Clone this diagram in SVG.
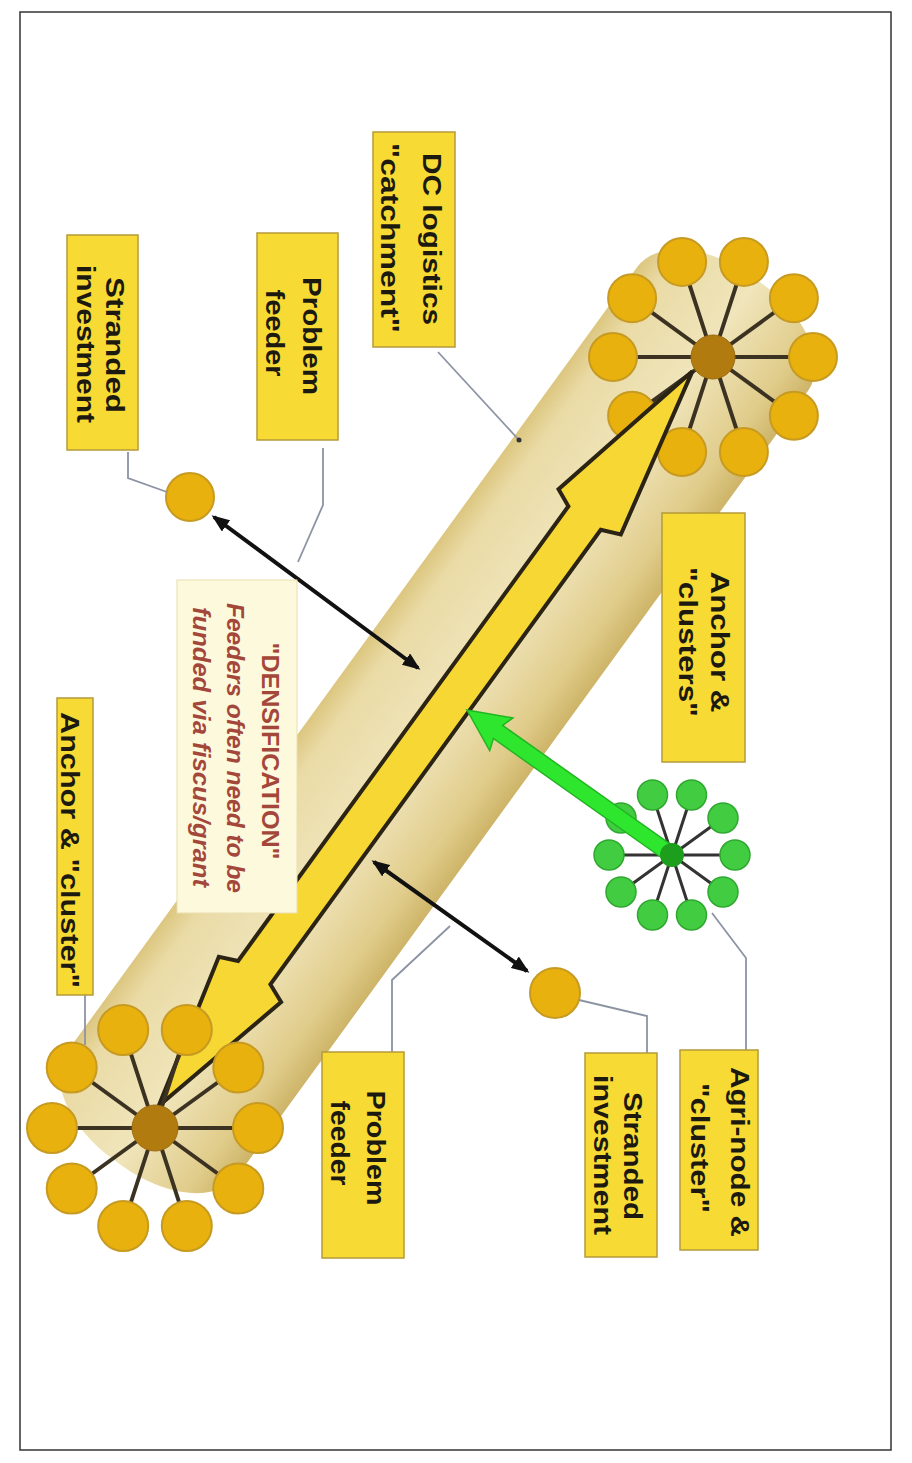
<svg xmlns="http://www.w3.org/2000/svg" width="912" height="1463" viewBox="0 0 912 1463">
<defs>
<style>
.lbl{font-family:"Liberation Sans",Arial,sans-serif;font-weight:bold;font-size:26px;fill:#1c1a10;text-anchor:middle}
.dens{font-family:"Liberation Sans",Arial,sans-serif;font-weight:bold;font-style:italic;font-size:24px;fill:#a4473b;text-anchor:middle}
.box{fill:#f8da34;stroke:#b59a3a;stroke-width:1.5}
.leader{fill:none;stroke:#8c93a3;stroke-width:1.8}
.gold{fill:#e8b10e;stroke:#c79a22;stroke-width:2}
.goldc{fill:#b27b10;stroke:#9a6a10;stroke-width:1}
.spoke{stroke:#3b3222;stroke-width:4;fill:none}
.green{fill:#42cc42;stroke:#2fa82f;stroke-width:1.5}
.greenc{fill:#1d9e1d}
.gspoke{stroke:#333;stroke-width:3;fill:none}
.blk{stroke:#111;stroke-width:4;fill:none;marker-start:url(#ah);marker-end:url(#ah)}
</style>
<linearGradient id="tubeg" gradientUnits="userSpaceOnUse" x1="0" y1="-116" x2="0" y2="95">
<stop offset="0" stop-color="#dcc67f"/>
<stop offset="0.12" stop-color="#eadba6"/>
<stop offset="0.5" stop-color="#f0e5bb"/>
<stop offset="0.85" stop-color="#e0cc8a"/>
<stop offset="1" stop-color="#cdb468"/>
</linearGradient>
<marker id="ah" markerUnits="userSpaceOnUse" viewBox="0 0 18 14" markerWidth="18" markerHeight="14" refX="15" refY="7" orient="auto-start-reverse">
<path d="M0,0 L18,7 L0,14 z" fill="#111"/>
</marker>
</defs>
<rect x="0" y="0" width="912" height="1463" fill="#fff"/>
<rect x="20" y="12" width="871" height="1438" fill="none" stroke="#333" stroke-width="1.5"/>

<g id="tube">
<rect transform="translate(155,1128) rotate(-54)" x="-50" y="-116" width="1090" height="211" rx="60" ry="100" fill="url(#tubeg)"/>
</g>

<g id="cluster-top-right">
<path class="spoke" d="M713,357 L813,357 M713,357 L793.9,415.8 M713,357 L743.9,452.1 M713,357 L682.1,452.1 M713,357 L632.1,415.8 M713,357 L613,357 M713,357 L632.1,298.2 M713,357 L682.1,261.9 M713,357 L743.9,261.9 M713,357 L793.9,298.2"/>
<circle class="gold" cx="813" cy="357" r="24"/>
<circle class="gold" cx="793.9" cy="415.8" r="24"/>
<circle class="gold" cx="743.9" cy="452.1" r="24"/>
<circle class="gold" cx="682.1" cy="452.1" r="24"/>
<circle class="gold" cx="632.1" cy="415.8" r="24"/>
<circle class="gold" cx="613" cy="357" r="24"/>
<circle class="gold" cx="632.1" cy="298.2" r="24"/>
<circle class="gold" cx="682.1" cy="261.9" r="24"/>
<circle class="gold" cx="743.9" cy="261.9" r="24"/>
<circle class="gold" cx="793.9" cy="298.2" r="24"/>
<circle class="goldc" cx="713" cy="357" r="22"/>
</g>

<g id="densification-arrow">
<polygon transform="translate(155,1128) rotate(-54)" points="20,-10 176,-49 184,-31 746,-31 754,-49 928,-10 754,28 746,9 184,9 176,28" fill="#f7d733" stroke="#2b2314" stroke-width="4" stroke-linejoin="miter"/>
</g>

<g id="cluster-bottom-left">
<path class="spoke" d="M155,1128 L258,1128 M155,1128 L238.3,1188.5 M155,1128 L186.8,1226 M155,1128 L123.2,1226 M155,1128 L71.7,1188.5 M155,1128 L52,1128 M155,1128 L71.7,1067.5 M155,1128 L123.2,1030 M155,1128 L186.8,1030 M155,1128 L238.3,1067.5"/>
<circle class="gold" cx="258" cy="1128" r="25"/>
<circle class="gold" cx="238.3" cy="1188.5" r="25"/>
<circle class="gold" cx="186.8" cy="1226" r="25"/>
<circle class="gold" cx="123.2" cy="1226" r="25"/>
<circle class="gold" cx="71.7" cy="1188.5" r="25"/>
<circle class="gold" cx="52" cy="1128" r="25"/>
<circle class="gold" cx="71.7" cy="1067.5" r="25"/>
<circle class="gold" cx="123.2" cy="1030" r="25"/>
<circle class="gold" cx="186.8" cy="1030" r="25"/>
<circle class="gold" cx="238.3" cy="1067.5" r="25"/>
<circle class="goldc" cx="155" cy="1128" r="23"/>
</g>

<g id="cluster-agri">
<path class="gspoke" d="M672,855 L735,855 M672,855 L723,892 M672,855 L691.5,915 M672,855 L652.5,915 M672,855 L621,892 M672,855 L609,855 M672,855 L621,818 M672,855 L652.5,795 M672,855 L691.5,795 M672,855 L723,818"/>
<circle class="green" cx="735" cy="855" r="15"/>
<circle class="green" cx="723" cy="892" r="15"/>
<circle class="green" cx="691.5" cy="915" r="15"/>
<circle class="green" cx="652.5" cy="915" r="15"/>
<circle class="green" cx="621" cy="892" r="15"/>
<circle class="green" cx="609" cy="855" r="15"/>
<circle class="green" cx="621" cy="818" r="15"/>
<circle class="green" cx="652.5" cy="795" r="15"/>
<circle class="green" cx="691.5" cy="795" r="15"/>
<circle class="green" cx="723" cy="818" r="15"/>
<polygon transform="translate(467,710) rotate(35.3)" points="0,0 42,-20 38,-8 250,-8 250,8 38,8 42,20" fill="#2fe62f" stroke="#22b522" stroke-width="1.5"/>
<circle class="greenc" cx="672" cy="855" r="12"/>
</g>

<g id="stranded-circle-top"><circle class="gold" cx="190" cy="497" r="24"/></g>
<g id="stranded-circle-bottom"><circle class="gold" cx="555" cy="993" r="25"/></g>

<g id="connectors">
<line class="blk" x1="214" y1="517" x2="418" y2="668"/>
<line class="blk" x1="374" y1="862" x2="527" y2="971"/>
<polyline class="leader" points="438,352 519,440"/>
<circle cx="519" cy="440" r="2.5" fill="#333"/>
<polyline class="leader" points="323,448 323,505 298,562"/>
<polyline class="leader" points="128,452 128,478 167,492"/>
<polyline class="leader" points="579,1000 647,1016 647,1053"/>
<polyline class="leader" points="392,1052 392,980 450,926"/>
<polyline class="leader" points="712,913 746,958 746,1050"/>
<polyline class="leader" points="85,995 85,1045"/>
</g>

<g id="label-stranded-top">
<rect class="box" x="67" y="235" width="71" height="215"/>
<text class="lbl" transform="translate(106,345) rotate(90)" textLength="136" lengthAdjust="spacingAndGlyphs">Stranded</text>
<text class="lbl" transform="translate(77,344) rotate(90)" textLength="158" lengthAdjust="spacingAndGlyphs">investment</text>
</g>
<g id="label-problem-top">
<rect class="box" x="257" y="233" width="81" height="207"/>
<text class="lbl" transform="translate(303,336) rotate(90)" textLength="118" lengthAdjust="spacingAndGlyphs">Problem</text>
<text class="lbl" transform="translate(266,333) rotate(90)" textLength="87" lengthAdjust="spacingAndGlyphs">feeder</text>
</g>
<g id="label-dc">
<rect class="box" x="373" y="132" width="82" height="215"/>
<text class="lbl" transform="translate(423,239) rotate(90)" textLength="172" lengthAdjust="spacingAndGlyphs">DC logistics</text>
<text class="lbl" transform="translate(381,238) rotate(90)" textLength="190" lengthAdjust="spacingAndGlyphs">"catchment"</text>
</g>
<g id="label-anchor-clusters">
<rect class="box" x="662" y="513" width="83" height="249"/>
<text class="lbl" transform="translate(711,642) rotate(90)" textLength="141" lengthAdjust="spacingAndGlyphs">Anchor &amp;</text>
<text class="lbl" transform="translate(679,642) rotate(90)" textLength="150" lengthAdjust="spacingAndGlyphs">"clusters"</text>
</g>
<g id="label-anchor-cluster">
<rect class="box" x="57" y="698" width="36" height="297"/>
<text class="lbl" transform="translate(61,850) rotate(90)" textLength="276" lengthAdjust="spacingAndGlyphs">Anchor &amp; "cluster"</text>
</g>
<g id="label-problem-bottom">
<rect class="box" x="322" y="1052" width="82" height="206"/>
<text class="lbl" transform="translate(367,1148) rotate(90)" textLength="115" lengthAdjust="spacingAndGlyphs">Problem</text>
<text class="lbl" transform="translate(331,1143) rotate(90)" textLength="85" lengthAdjust="spacingAndGlyphs">feeder</text>
</g>
<g id="label-stranded-bottom">
<rect class="box" x="585" y="1053" width="72" height="204"/>
<text class="lbl" transform="translate(624,1156) rotate(90)" textLength="128" lengthAdjust="spacingAndGlyphs">Stranded</text>
<text class="lbl" transform="translate(594,1155) rotate(90)" textLength="160" lengthAdjust="spacingAndGlyphs">investment</text>
</g>
<g id="label-agri">
<rect class="box" x="680" y="1050" width="78" height="200"/>
<text class="lbl" transform="translate(731,1152) rotate(90)" textLength="170" lengthAdjust="spacingAndGlyphs">Agri-node &amp;</text>
<text class="lbl" transform="translate(691,1148) rotate(90)" textLength="130" lengthAdjust="spacingAndGlyphs">"cluster"</text>
</g>
<g id="label-densification">
<rect x="177" y="580" width="120" height="333" fill="#fdf9dc" stroke="#e8dfb0" stroke-width="1"/>
<text class="dens" style="font-style:normal" transform="translate(262,751) rotate(90)" textLength="217" lengthAdjust="spacingAndGlyphs">"DENSIFICATION"</text>
<text class="dens" transform="translate(227,748) rotate(90)" textLength="290" lengthAdjust="spacingAndGlyphs">Feeders often need to be</text>
<text class="dens" transform="translate(193,747) rotate(90)" textLength="280" lengthAdjust="spacingAndGlyphs">funded via fiscus/grant</text>
</g>
</svg>
